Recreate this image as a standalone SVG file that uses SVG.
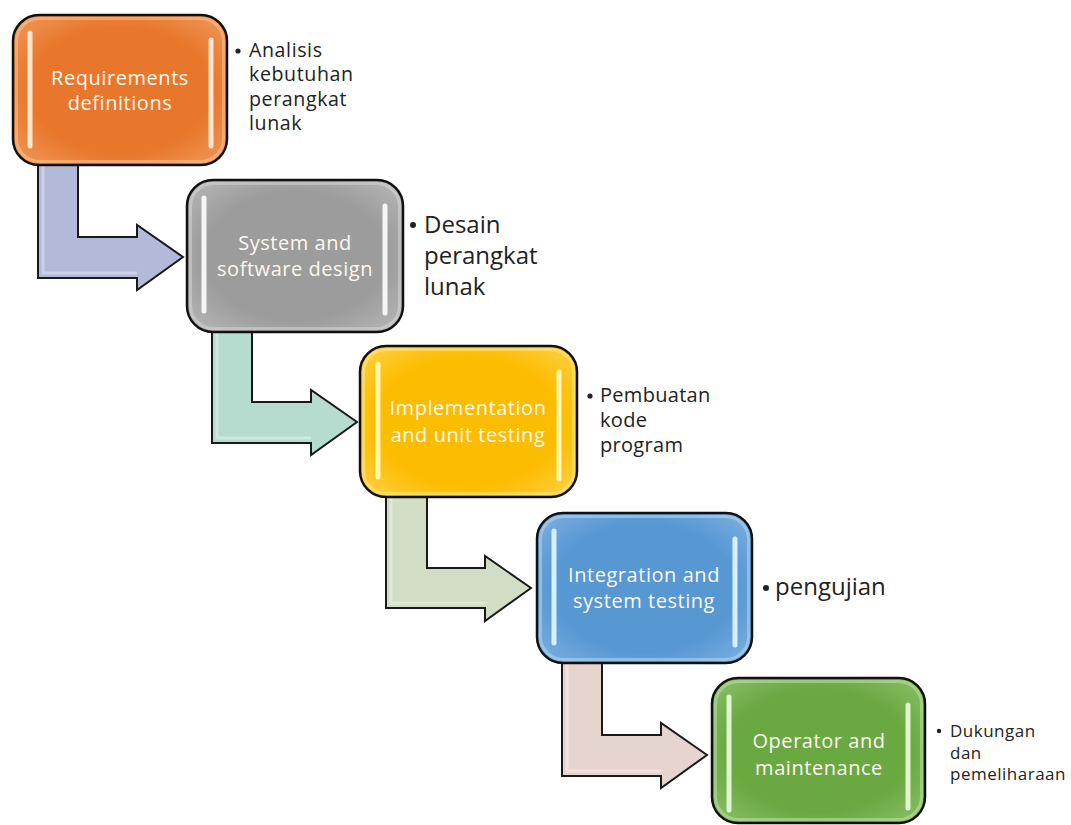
<svg xmlns="http://www.w3.org/2000/svg" width="1071" height="825" viewBox="0 0 1071 825">
<defs>
<style>
.box{stroke:#111;stroke-width:2.5}
.inner{fill:none;stroke-width:3;opacity:0.45}
.bar{stroke-width:5;stroke-linecap:round}
.lbl{font-family:"Open Sans","Liberation Sans",sans-serif;font-size:20px;letter-spacing:0.55px;fill:#fdf8f0;text-anchor:middle}
.note{font-family:"Open Sans","Liberation Sans",sans-serif;fill:#222}
.arrow{stroke:#1a1a1a;stroke-width:2;stroke-linejoin:miter}
.hl{fill:none;stroke:#fff;stroke-width:3;opacity:0.35;stroke-linejoin:round}
</style>
<radialGradient id="gO" cx="50%" cy="50%" r="70%"><stop offset="0.6" stop-color="#e8772c"/><stop offset="1" stop-color="#f29a5a"/></radialGradient>
<radialGradient id="gG" cx="50%" cy="50%" r="70%"><stop offset="0.6" stop-color="#9c9c9c"/><stop offset="1" stop-color="#b9b9b9"/></radialGradient>
<radialGradient id="gY" cx="50%" cy="50%" r="70%"><stop offset="0.6" stop-color="#fcbc00"/><stop offset="1" stop-color="#ffd24a"/></radialGradient>
<radialGradient id="gB" cx="50%" cy="50%" r="70%"><stop offset="0.6" stop-color="#5797d2"/><stop offset="1" stop-color="#7fb2e2"/></radialGradient>
<radialGradient id="gN" cx="50%" cy="50%" r="70%"><stop offset="0.6" stop-color="#6aa842"/><stop offset="1" stop-color="#8dc26a"/></radialGradient>
</defs>
<rect width="1071" height="825" fill="#fff"/>

<g id="connectors">
<path class="arrow" fill="#b3bad9" d="M38,160 L78,160 L78,237 L137,237 L137,225 L183,257 L137,290 L137,278 L38,278 Z"/>
<path class="hl" d="M43,165 L43,273 L137,273"/>
<path class="arrow" fill="#b6dccf" d="M212,325 L252,325 L252,402 L311,402 L311,390 L357,422 L311,455 L311,443 L212,443 Z"/>
<path class="hl" d="M217,330 L217,438 L311,438"/>
<path class="arrow" fill="#d3dcc4" d="M386,490 L427,490 L427,568 L485,568 L485,556 L531,588 L485,621 L485,608 L386,608 Z"/>
<path class="hl" d="M391,495 L391,603 L485,603"/>
<path class="arrow" fill="#e6d4cf" d="M562,656 L602,656 L602,735 L661,735 L661,723 L707,755 L661,788 L661,776 L562,776 Z"/>
<path class="hl" d="M567,661 L567,771 L661,771"/>
</g>

<g id="node-requirements">
<rect class="box" x="13" y="15" width="214" height="150" rx="26" fill="url(#gO)"/>
<rect class="inner" x="16.5" y="18.5" width="207" height="143" rx="23" stroke="#fcd2b0"/>
<line class="bar" x1="30" y1="33" x2="30" y2="146" stroke="#fde6cf"/>
<line class="bar" x1="211" y1="40" x2="211" y2="146" stroke="#fde6cf"/>
<text class="lbl" x="120" y="85">Requirements</text>
<text class="lbl" x="120" y="110">definitions</text>
</g>
<g id="note-requirements" class="note" font-size="19.6" letter-spacing="0.6">
<circle cx="238" cy="51" r="2.6" fill="#222"/>
<text x="249" y="56.5">Analisis</text>
<text x="249" y="81">kebutuhan</text>
<text x="249" y="105.5">perangkat</text>
<text x="249" y="130">lunak</text>
</g>

<g id="node-design">
<rect class="box" x="187" y="180" width="216" height="152" rx="26" fill="url(#gG)"/>
<rect class="inner" x="190.5" y="183.5" width="209" height="145" rx="23" stroke="#e0e0e0"/>
<line class="bar" x1="204" y1="198" x2="204" y2="311" stroke="#f5f5f5"/>
<line class="bar" x1="385" y1="206" x2="385" y2="313" stroke="#f5f5f5"/>
<text class="lbl" x="295" y="250">System and</text>
<text class="lbl" x="295" y="276">software design</text>
</g>
<g id="note-design" class="note" font-size="24">
<circle cx="413" cy="225" r="3" fill="#222"/>
<text x="424" y="233">Desain</text>
<text x="424" y="264">perangkat</text>
<text x="424" y="295">lunak</text>
</g>

<g id="node-implementation">
<rect class="box" x="360" y="346" width="217" height="151" rx="26" fill="url(#gY)"/>
<rect class="inner" x="363.5" y="349.5" width="210" height="144" rx="23" stroke="#fff0a0"/>
<line class="bar" x1="378" y1="364" x2="378" y2="477" stroke="#fff7a8"/>
<line class="bar" x1="559" y1="372" x2="559" y2="479" stroke="#fff7a8"/>
<text class="lbl" x="468" y="415">Implementation</text>
<text class="lbl" x="468" y="442">and unit testing</text>
</g>
<g id="note-implementation" class="note" font-size="20" letter-spacing="0.3">
<circle cx="590" cy="396" r="2.6" fill="#222"/>
<text x="600" y="402">Pembuatan</text>
<text x="600" y="427">kode</text>
<text x="600" y="452">program</text>
</g>

<g id="node-integration">
<rect class="box" x="537" y="513" width="215" height="150" rx="26" fill="url(#gB)"/>
<rect class="inner" x="540.5" y="516.5" width="208" height="143" rx="23" stroke="#c6e2f8"/>
<line class="bar" x1="554" y1="531" x2="554" y2="643" stroke="#d6f0ff"/>
<line class="bar" x1="735" y1="539" x2="735" y2="645" stroke="#d6f0ff"/>
<text class="lbl" x="644" y="582">Integration and</text>
<text class="lbl" x="644" y="608">system testing</text>
</g>
<g id="note-integration" class="note" font-size="24">
<circle cx="766" cy="588" r="3" fill="#222"/>
<text x="775" y="595">pengujian</text>
</g>

<g id="node-operator">
<rect class="box" x="712" y="678" width="213" height="145" rx="26" fill="url(#gN)"/>
<rect class="inner" x="715.5" y="681.5" width="206" height="138" rx="23" stroke="#cfe9b8"/>
<line class="bar" x1="729" y1="697" x2="729" y2="810" stroke="#e0f5cf"/>
<line class="bar" x1="908" y1="705" x2="908" y2="808" stroke="#e0f5cf"/>
<text class="lbl" x="819" y="748">Operator and</text>
<text class="lbl" x="819" y="775">maintenance</text>
</g>
<g id="note-operator" class="note" font-size="17" letter-spacing="0.5">
<circle cx="939" cy="731" r="2.2" fill="#222"/>
<text x="950" y="737">Dukungan</text>
<text x="950" y="758.5">dan</text>
<text x="950" y="780">pemeliharaan</text>
</g>
</svg>
